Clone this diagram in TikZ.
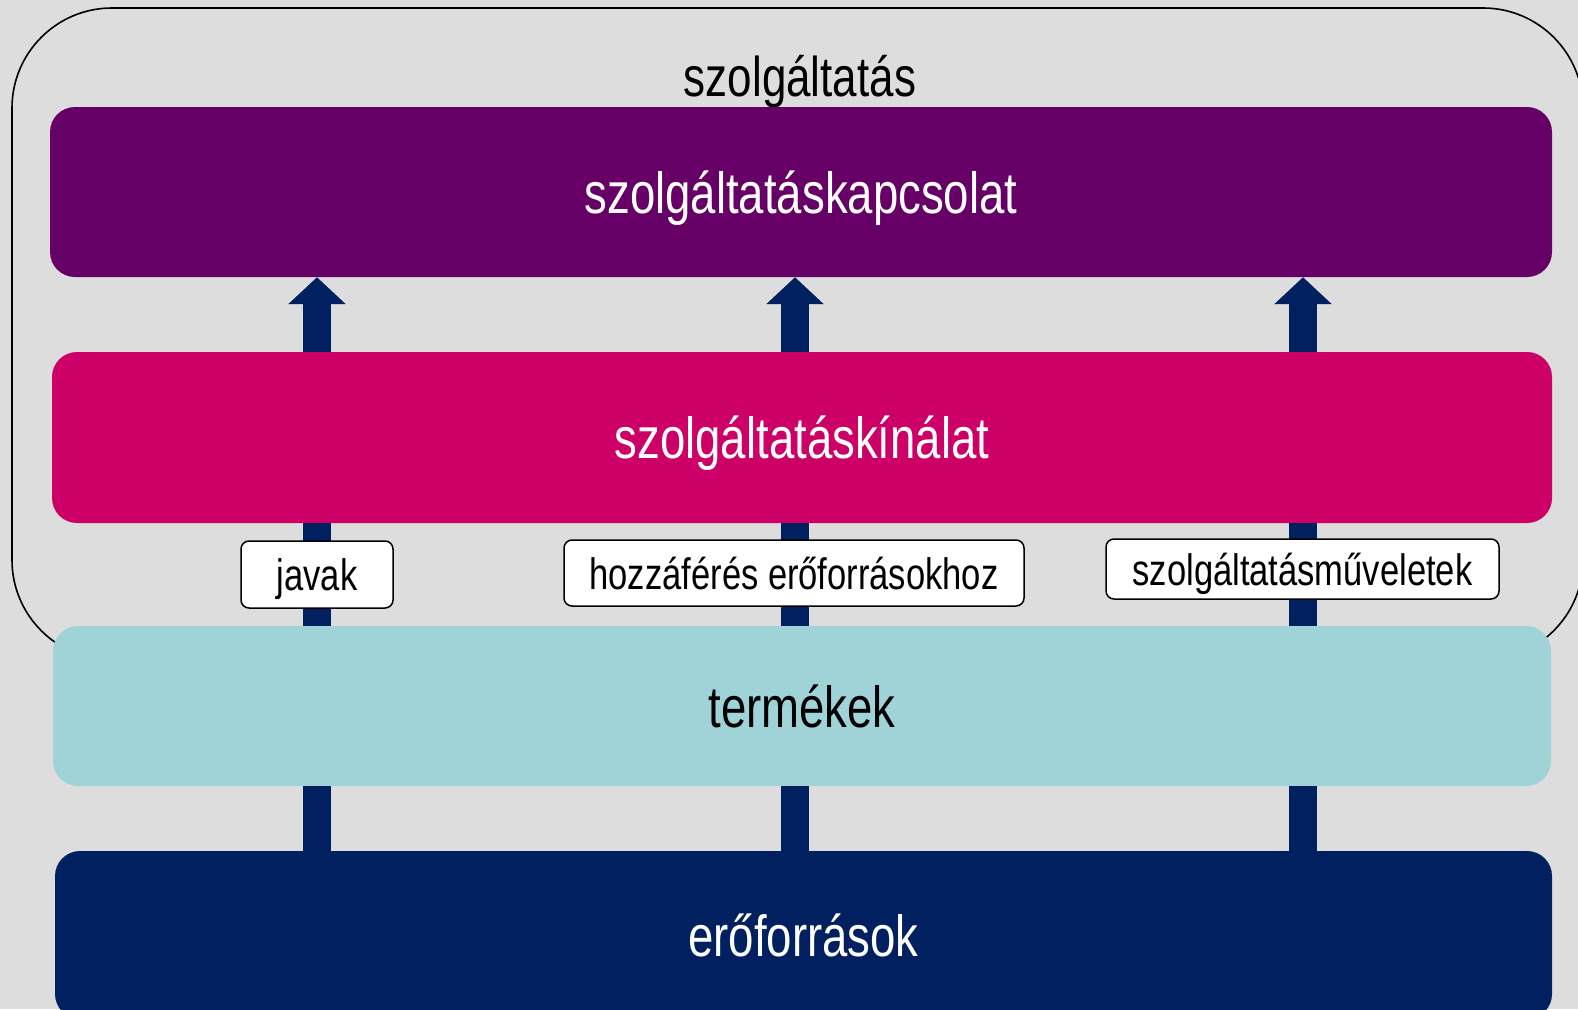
\documentclass[tikz,border=0pt]{standalone}
\usepackage{fontspec}
\setmainfont[FakeStretch=0.785]{Liberation Sans}
\usetikzlibrary{arrows.meta}
\definecolor{bgc}{HTML}{DDDDDD}
\definecolor{purp}{HTML}{660066}
\definecolor{mage}{HTML}{CC0066}
\definecolor{teal2}{HTML}{9FD3D8}
\definecolor{navy2}{HTML}{002060}
\tikzset{
  layer/.style={rounded corners=25pt, inner sep=0pt, text depth=0pt, font=\fontsize{58}{60}\selectfont},
  lbl/.style={draw=black, line width=1.5pt, fill=white, rounded corners=8pt, inner sep=0pt, text depth=0pt, font=\fontsize{44}{46}\selectfont},
  shaft/.style={draw=navy2, line width=28pt},
  uparrow/.style={shaft, -{Triangle[width=56pt,length=27pt]}},
}
\begin{document}
\begin{tikzpicture}[x=1pt,y=-1pt]
\useasboundingbox (0,0) rectangle (1578,1009);
\fill[bgc] (0,0) rectangle (1578,1009);
\draw[line width=1.6pt, rounded corners=100pt] (12,8) rectangle (1583,660);
\node[anchor=base, font=\fontsize{56}{58}\selectfont] (title) at (800,96) {szolgáltatás};
% layers
\node[layer, fill=purp, text=white, minimum width=1502pt, minimum height=170pt] (purp) at (801,192) {szolgáltatáskapcsolat};
\node[layer, fill=mage, text=white, minimum width=1500pt, minimum height=171pt] (mage) at (802,437.5) {szolgáltatáskínálat};
\node[layer, fill=teal2, text=black, minimum width=1498pt, minimum height=160pt] (term) at (802,706) {termékek};
\node[layer, fill=navy2, text=white, minimum width=1497pt, minimum height=168pt] (eroforr) at (803.5,935) {erőforrások};
% arrow positions
\coordinate (a1) at (317,0);
\coordinate (a2) at (795,0);
\coordinate (a3) at (1303,0);
\foreach \a in {a1,a2,a3}{
  \draw[uparrow] (mage.north -| \a) -- (purp.south -| \a);
  \draw[shaft] (term.north -| \a) -- (mage.south -| \a);
  \draw[shaft] (eroforr.north -| \a) -- (term.south -| \a);
}
% labels
\node[lbl, minimum width=152pt, minimum height=67pt] (javak) at (317,574.5) {javak};
\node[lbl, minimum width=460pt, minimum height=66pt] (hozza) at (794,573) {hozzáférés erőforrásokhoz};
\node[lbl, minimum width=393pt, minimum height=60pt] (muvel) at (1302.5,569) {szolgáltatásműveletek};
\end{tikzpicture}
\end{document}
